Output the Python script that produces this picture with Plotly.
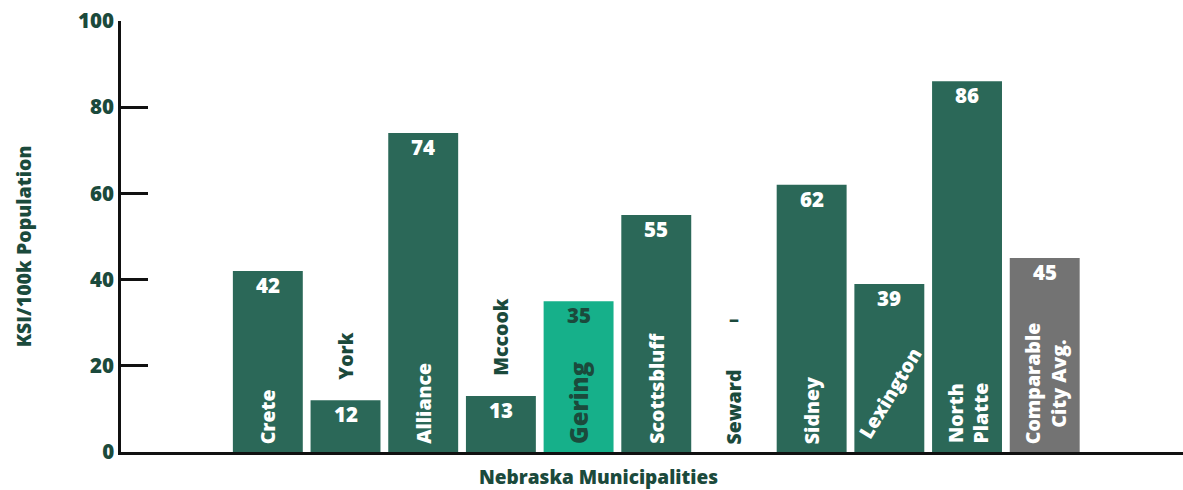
import plotly.graph_objects as go

# Data: killed or seriously injured (KSI) per 100k population
cities = ["Crete", "York", "Alliance", "Mccook", "Gering", "Scottsbluff",
          "Seward", "Sidney", "Lexington", "North Platte", "Comparable City Avg."]
ksi = [42, 12, 74, 13, 35, 55, None, 62, 39, 86, 45]
value_labels = ["42", "12", "74", "13", "35", "55", "–", "62", "39", "86", "45"]
name_labels = ["Crete", "York", "Alliance", "Mccook", "Gering", "Scottsbluff",
               "Seward", "Sidney", "Lexington", "North<br>Platte", "Comparable<br>City Avg."]
y_ticks = [0, 20, 40, 60, 80, 100]

DARK = "#2B6858"
HIGHLIGHT = "#16B08A"
AVG = "#737373"
TEXT = "#1B4A3C"
WHITE = "#FFFFFF"
FONT = "Open Sans"
W = 800
NAME_SIZE = 19.5

colors = []
for c in cities:
    if c == "Gering":
        colors.append(HIGHLIGHT)
    elif c.startswith("Comparable"):
        colors.append(AVG)
    else:
        colors.append(DARK)

fig = go.Figure(go.Bar(
    x=cities, y=ksi, marker=dict(color=colors, line=dict(width=0)),
    width=0.9, hoverinfo="skip",
))

annotations = []
short_bar = {"York", "Mccook"}
for c, v, vl, nl in zip(cities, ksi, value_labels, name_labels):
    # value label near the top of each bar
    if v is None:
        annotations.append(dict(x=c, y=31, text=vl, showarrow=False,
                                font=dict(family=FONT, size=20, color=TEXT, weight=W),
                                xanchor="center", yanchor="middle"))
    else:
        vcol = TEXT if c == "Gering" else WHITE
        annotations.append(dict(x=c, y=v, yshift=2, text=vl, showarrow=False,
                                font=dict(family=FONT, size=20.5, color=vcol, weight=W),
                                xanchor="center", yanchor="top"))
    # category name, rotated
    if c in short_bar:
        annotations.append(dict(x=c, y=v, yshift=18, text=nl, showarrow=False, textangle=-90,
                                font=dict(family=FONT, size=NAME_SIZE, color=TEXT, weight=W),
                                xanchor="center", yanchor="bottom"))
    elif c == "Seward":
        annotations.append(dict(x=c, y=0, yshift=6, text=nl, showarrow=False, textangle=-90,
                                font=dict(family=FONT, size=NAME_SIZE, color=TEXT, weight=W),
                                xanchor="center", yanchor="bottom"))
    elif c == "Gering":
        annotations.append(dict(x=c, y=0, yshift=6, text=nl, showarrow=False, textangle=-90,
                                font=dict(family=FONT, size=24, color=TEXT, weight=W),
                                xanchor="center", yanchor="bottom"))
    elif c == "Lexington":
        annotations.append(dict(x=c, y=0, yshift=6, text=nl, showarrow=False, textangle=-59,
                                font=dict(family=FONT, size=NAME_SIZE, color=WHITE, weight=W),
                                xanchor="center", yanchor="bottom"))
    else:
        annotations.append(dict(x=c, y=0, yshift=6, text=nl, showarrow=False, textangle=-90,
                                font=dict(family=FONT, size=NAME_SIZE, color=WHITE, weight=W),
                                xanchor="center", yanchor="bottom"))

# axis titles
annotations.append(dict(xref="paper", yref="paper", x=(598 - 121) / 1062, y=-0.0575,
                        text="Nebraska Municipalities", showarrow=False, borderpad=0,
                        font=dict(family=FONT, size=19, color=TEXT, weight=W),
                        xanchor="center", yanchor="middle"))
annotations.append(dict(xref="paper", yref="paper", x=-0.091, y=0.478,
                        text="KSI/100k Population", showarrow=False, textangle=-90,
                        font=dict(family=FONT, size=19.5, color=TEXT, weight=W),
                        xanchor="center", yanchor="middle"))

fig.update_layout(
    width=1183, height=490,
    margin=dict(l=121, r=0, t=21, b=38),
    plot_bgcolor="white", paper_bgcolor="white",
    showlegend=False,
    annotations=annotations,
    xaxis=dict(type="category", range=[-1.89, 11.78], showticklabels=False,
               ticks="", showgrid=False, zeroline=False,
               showline=True, linecolor="#111111", linewidth=2.5),
    yaxis=dict(range=[0, 100], tickvals=y_ticks, ticks="inside", ticklen=27,
               tickwidth=2.5, tickcolor="#111111", showgrid=False, zeroline=False,
               showline=True, linecolor="#111111", linewidth=2.5,
               tickfont=dict(family=FONT, size=20.5, color=TEXT, weight=W)),
    bargap=0.1,
)

fig.write_html("out.html")
